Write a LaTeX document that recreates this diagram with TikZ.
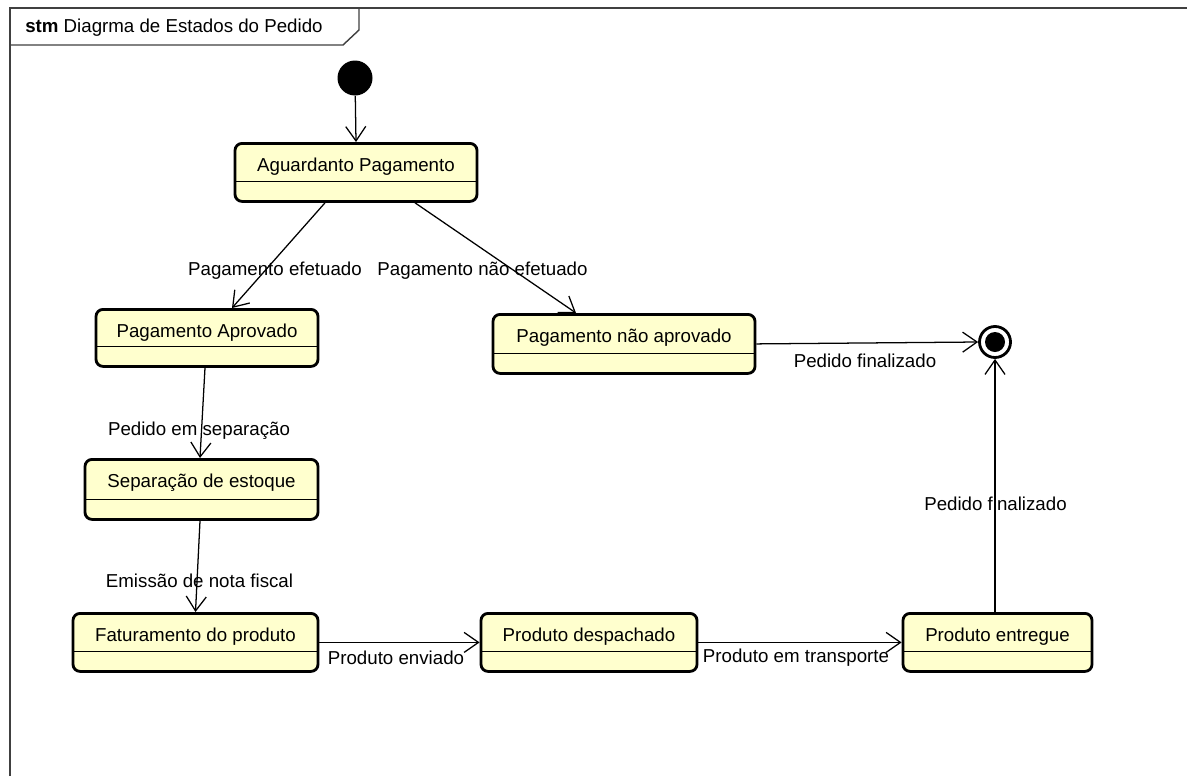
\documentclass[tikz,border=0pt]{standalone}
\usepackage{fontspec}
\setmainfont{Liberation Sans}
\usetikzlibrary{arrows.meta}
\definecolor{stfill}{RGB}{255,255,206}
\tikzset{
  stbox/.style={draw=black, fill=stfill, line width=2pt, rounded corners=5pt, inner sep=0pt},
  divline/.style={draw=black, line width=0.9pt},
  txt/.style={inner sep=0pt, font=\fontsize{13.3}{16}\selectfont},
  lbl/.style={inner sep=0pt, font=\fontsize{13.3}{16}\selectfont},
  conn/.style={draw=black, line width=0.9pt, -{Straight Barb[length=3.6mm,width=5mm,line width=0.9pt]}},
  framel/.style={draw=black!75, line width=1pt}
}
\newcommand{\stnode}[6]{%
  \node[stbox, minimum width=#4*0.025cm, minimum height=#5*0.025cm, anchor=north] (#1) at (#2,#3) {};
  \draw[divline] ([xshift=1pt,yshift=21*0.025cm]#1.south west) -- ([xshift=-1pt,yshift=21*0.025cm]#1.south east);
  \node[txt, anchor=base] (#1-t) at ([yshift=-29*0.025cm]#1.north) {#6};
}
\begin{document}
\begin{tikzpicture}[x=0.025cm,y=-0.025cm]
\useasboundingbox[fill=white] (0,0) rectangle (1187,776);
% frame
\draw[framel] (10,776) -- (10,8) -- (1187,8);
\draw[framel] (10,45) -- (343,45) -- (359,30) -- (359,8);
\node[txt, anchor=west] (title) at (25,28) {\textbf{stm} Diagrma de Estados do Pedido};
% initial and final
\node[circle, fill=black, minimum size=35*0.025cm, inner sep=0pt] (init) at (355,78) {};
\node[circle, draw=black, line width=2pt, fill=white, minimum size=31*0.025cm, inner sep=0pt] (fin) at (995,342) {};
\fill[black] (fin.center) circle (0.25cm);
% states
\stnode{ag}{356}{142}{242}{58}{Aguardanto Pagamento}
\stnode{pa}{207}{308}{222}{57}{Pagamento Aprovado}
\stnode{pna}{624}{313}{262}{59}{Pagamento não aprovado}
\stnode{sep}{201.5}{458}{233}{60}{Separação de estoque}
\stnode{fat}{195.5}{612}{245}{58}{Faturamento do produto}
\stnode{desp}{589}{612}{216}{58}{Produto despachado}
\stnode{ent}{997.5}{612}{189}{58}{Produto entregue}
% connectors
\draw[conn] (init) -- (ag.north);
\draw[conn] ([xshift=-31*0.025cm]ag.south) -- ([xshift=25*0.025cm]pa.north);
\draw[conn] ([xshift=59*0.025cm]ag.south) -- ([xshift=-48*0.025cm]pna.north);
\draw[conn] (pna.east) -- (fin.west);
\draw[conn] ([xshift=-2*0.025cm]pa.south) -- ([xshift=-1.5*0.025cm]sep.north);
\draw[conn] ([xshift=-1.5*0.025cm]sep.south) -- (fat.north);
\draw[conn] (fat.east) -- (desp.west);
\draw[conn] (desp.east) -- (ent.west);
\draw[conn] (ent.north -| fin.south) -- (fin.south);
% labels
\node[lbl] (l1) at (275,271) {Pagamento efetuado};
\node[lbl] (l2) at (482.5,271) {Pagamento não efetuado};
\node[lbl] (l3) at (865,361) {Pedido finalizado};
\node[lbl] (l4) at (199,431) {Pedido em separação};
\node[lbl] (l5) at (199.5,581) {Emissão de nota fiscal};
\node[lbl] (l6) at (396,658) {Produto enviado};
\node[lbl] (l7) at (796,658) {Produto em transporte};
\node[lbl] (l8) at (995.5,504) {Pedido finalizado};
\end{tikzpicture}
\end{document}
